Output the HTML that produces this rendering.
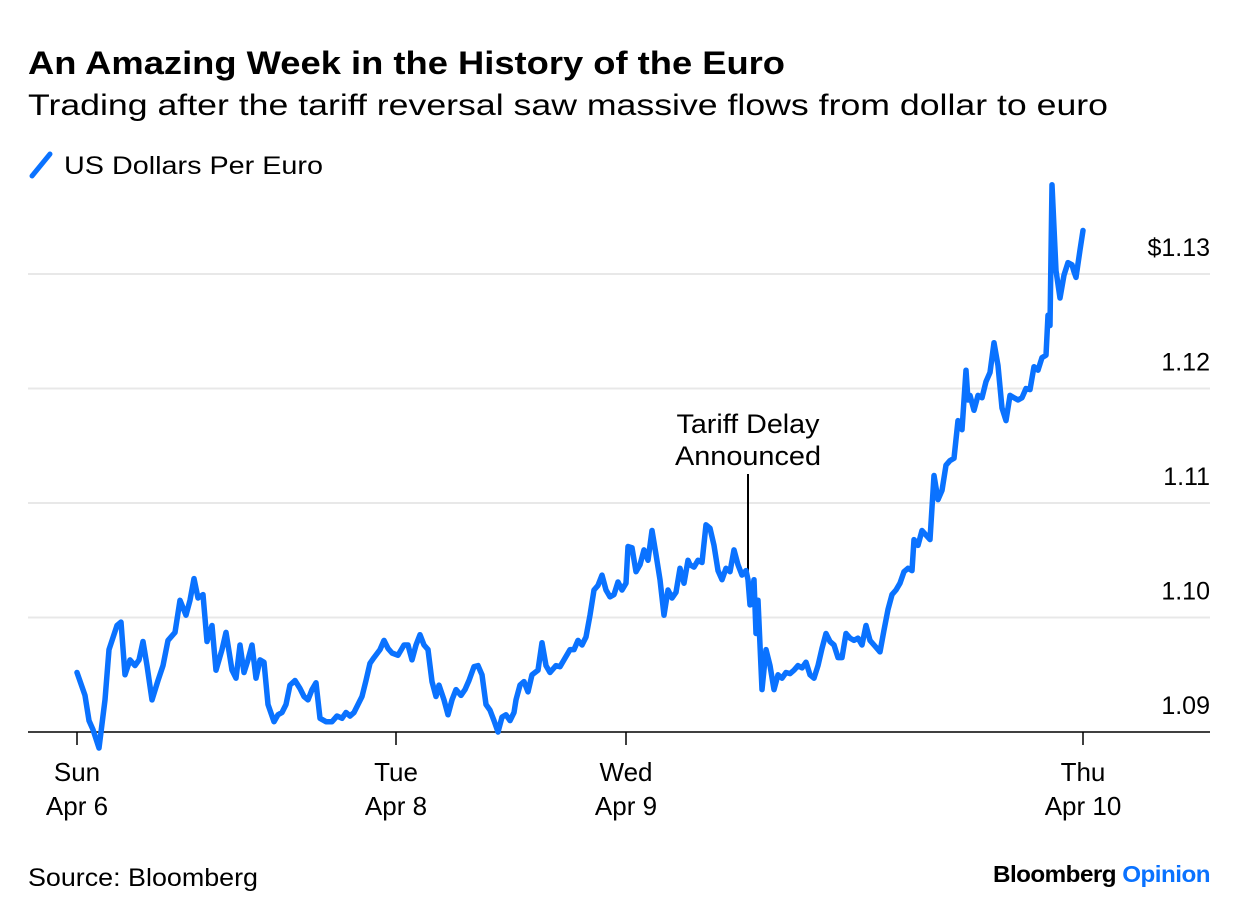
<!DOCTYPE html>
<html><head><meta charset="utf-8"><style>
body{margin:0;background:#fff;font-family:"Liberation Sans",sans-serif;}
svg text{font-family:"Liberation Sans",sans-serif;fill:#000;}
</style></head><body>
<svg width="1240" height="918" viewBox="0 0 1240 918" id="c">
<text x="28" y="74" font-size="32" font-weight="bold" textLength="757" lengthAdjust="spacingAndGlyphs">An Amazing Week in the History of the Euro</text>
<text x="28" y="115" font-size="30" textLength="1080" lengthAdjust="spacingAndGlyphs">Trading after the tariff reversal saw massive flows from dollar to euro</text>
<line x1="32" y1="176" x2="50" y2="154" stroke="#0a72ff" stroke-width="5" stroke-linecap="round"/>
<text x="64" y="174" font-size="25" textLength="259" lengthAdjust="spacingAndGlyphs">US Dollars Per Euro</text>
<g id="grid"></g><g id="axis"></g>
<line x1="748" y1="474" x2="748" y2="572" stroke="#000" stroke-width="2"/>
<text x="748" y="433" font-size="27" text-anchor="middle" textLength="143" lengthAdjust="spacingAndGlyphs">Tariff Delay</text>
<text x="748" y="465" font-size="27" text-anchor="middle" textLength="146" lengthAdjust="spacingAndGlyphs">Announced</text>
<g id="series"></g>
<text x="28" y="886" font-size="25" textLength="230" lengthAdjust="spacingAndGlyphs">Source: Bloomberg</text>
<text x="993" y="882" font-size="23" font-weight="bold" textLength="217" lengthAdjust="spacingAndGlyphs" letter-spacing="-0.5">Bloomberg <tspan fill="#0a72ff">Opinion</tspan></text>
</svg>
<script>
const times=[0,8,12,16,22,28,32,40,44,48,53,58,62,66,70,75,81,86,91,98,103,109,113,117,121,126,130,135,139,145,149,155,159,163,167,171,175,179,183,187,191,197,201,205,209,213,218,223,227,231,235,239,243,249,255,260,265,269,273,277,281,285,289,293,297,303,307,311,315,321,327,331,335,339,343,347,351,355,359,362,367,371,375,379,384,388,392,397,401,405,409,413,417,421,425,429,433,437,439,443,447,451,455,461,465,469,473,479,483,487,493,497,501,505,509,513,517,521,525,529,533,537,541,545,549,551,555,559,563,567,571,575,579,583,587,591,595,599,603,607,611,613,617,621,625,629,633,637,641,645,649,653,657,661,665,669,671,673,677,679,681,685,689,693,697,701,705,709,713,717,721,725,729,733,737,741,745,749,753,757,761,765,769,773,777,781,785,789,793,797,801,803,807,811,815,819,823,827,831,835,837,841,845,849,853,857,861,865,869,873,877,881,885,889,891,893,897,901,905,909,913,917,921,925,929,933,937,941,945,949,953,957,961,965,969,971,973,975,979,983,987,991,995,997,999,1003,1006];
const rates=[1.0952,1.0932,1.0910,1.0902,1.0886,1.0928,1.0972,1.0993,1.0996,1.0950,
1.0963,1.0958,1.0963,1.0979,1.0958,1.0928,1.0945,1.0958,1.0980,1.0987,
1.1015,1.1002,1.1015,1.1034,1.1017,1.1020,1.0979,1.0993,1.0954,1.0972,
1.0987,1.0954,1.0947,1.0976,1.0952,1.0963,1.0976,1.0947,1.0963,1.0961,
1.0924,1.0909,1.0915,1.0917,1.0924,1.0941,1.0945,1.0938,1.0931,1.0928,
1.0937,1.0943,1.0912,1.0909,1.0909,1.0914,1.0912,1.0917,1.0914,1.0917,
1.0924,1.0931,1.0945,1.0960,1.0965,1.0972,1.0980,1.0973,1.0969,1.0967,
1.0976,1.0976,1.0963,1.0976,1.0985,1.0976,1.0972,1.0944,1.0931,1.0941,
1.0928,1.0915,1.0928,1.0937,1.0932,1.0937,1.0945,1.0957,1.0958,1.0950,
1.0924,1.0919,1.0910,1.0900,1.0913,1.0915,1.0910,1.0917,1.0928,1.0941,
1.0944,1.0935,1.0950,1.0954,1.0978,1.0958,1.0952,1.0958,1.0957,1.0963,
1.0972,1.0972,1.0980,1.0976,1.0983,1.1002,1.1024,1.1028,1.1037,1.1024,
1.1018,1.1020,1.1031,1.1024,1.1030,1.1062,1.1061,1.1040,1.1046,1.1059,
1.1050,1.1076,1.1055,1.1033,1.1002,1.1024,1.1017,1.1022,1.1043,1.1030,
1.1050,1.1046,1.1044,1.1050,1.1048,1.1081,1.1078,1.1063,1.1041,1.1033,
1.1043,1.1040,1.1059,1.1046,1.1037,1.1041,1.1033,1.1011,1.1033,1.0986,
1.1015,1.0937,1.0972,1.0958,1.0937,1.0950,1.0947,1.0952,1.0951,1.0954,
1.0958,1.0956,1.0961,1.0950,1.0947,1.0958,1.0973,1.0986,1.0979,1.0976,
1.0965,1.0965,1.0986,1.0982,1.0980,1.0982,1.0976,1.0993,1.0980,1.0976,
1.0972,1.0970,1.0989,1.1007,1.1020,1.1024,1.1030,1.1040,1.1043,1.1041,
1.1068,1.1063,1.1076,1.1072,1.1068,1.1124,1.1103,1.1111,1.1133,1.1137,
1.1139,1.1172,1.1164,1.1216,1.1190,1.1194,1.1181,1.1194,1.1192,1.1206,
1.1214,1.1240,1.1220,1.1183,1.1172,1.1194,1.1192,1.1190,1.1192,1.1200,
1.1199,1.1219,1.1216,1.1227,1.1229,1.1264,1.1255,1.1378,1.1303,1.1279,
1.1299,1.1310,1.1308,1.1302,1.1297,1.1321,1.1338];
const yTicks=[1.09,1.10,1.11,1.12,1.13];
const yTickLabels=["1.09","1.10","1.11","1.12","$1.13"];
const xTicks=[0,319,549,1006];
const xTickLine1=["Sun","Tue","Wed","Thu"];
const xTickLine2=["Apr 6","Apr 8","Apr 9","Apr 10"];

const NS="http://www.w3.org/2000/svg";
const X=t=>77+(t-0)*(1083-77)/1006;
const Y=v=>732-(v-1.09)*11450;
function mk(tag,attrs,parent){const e=document.createElementNS(NS,tag);for(const k in attrs)e.setAttribute(k,attrs[k]);parent.appendChild(e);return e;}
const grid=document.getElementById('grid'),axis=document.getElementById('axis'),ser=document.getElementById('series');
yTicks.forEach((v,i)=>{
  if(i>0){const g=mk('line',{x1:28,x2:1210,y1:Y(v),y2:Y(v),stroke:'#e8e8e8','stroke-width':2},grid);
  
  }
  const t=mk('text',{x:1210,y:Y(v)-18,'font-size':25,'text-anchor':'end'},axis);
  t.textContent=yTickLabels[i];
  
  
});
const base=mk('line',{x1:28,x2:1210,y1:732,y2:732,stroke:'#000','stroke-width':1.5},axis);


xTicks.forEach((t,i)=>{
  const tk=mk('line',{x1:X(t),x2:X(t),y1:732,y2:745,stroke:'#000','stroke-width':1.5},axis);
  
  
  const a=mk('text',{x:X(t),y:781,'font-size':26,'text-anchor':'middle'},axis);a.textContent=xTickLine1[i];
  
  
  const b=mk('text',{x:X(t),y:815,'font-size':26,'text-anchor':'middle'},axis);b.textContent=xTickLine2[i];
  
  
});
const n=Math.min(times.length,rates.length);
let d='';for(let i=0;i<n;i++)d+=(i?'L':'M')+X(times[i]).toFixed(1)+' '+Y(rates[i]).toFixed(1);
const p=mk('path',{d:d,fill:'none',stroke:'#0a72ff','stroke-width':5.5,'stroke-linejoin':'round','stroke-linecap':'round'},ser);


</script>
</body></html>
